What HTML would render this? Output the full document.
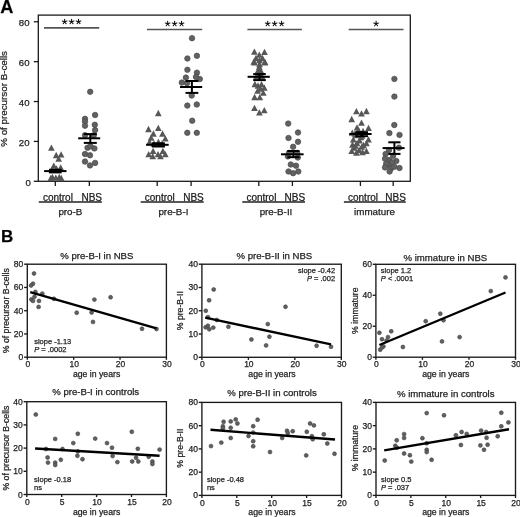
<!DOCTYPE html>
<html><head><meta charset="utf-8"><style>
html,body{margin:0;padding:0;background:#fff;width:520px;height:517px;overflow:hidden}
svg{display:block;will-change:transform}
text{font-family:"Liberation Sans",sans-serif;stroke:#222;stroke-width:0.25px}
</style></head><body>
<svg width="520" height="517" viewBox="0 0 520 517">
<rect width="520" height="517" fill="#fff"/>
<text x="0.20" y="13.00" font-size="18.2" text-anchor="start" font-weight="bold" fill="#000">A</text>
<rect x="38.3" y="15.1" width="372.0" height="166.20000000000002" fill="none" stroke="#1a1a1a" stroke-width="1.3"/>
<line x1="33.80" y1="181.30" x2="38.30" y2="181.30" stroke="#1a1a1a" stroke-width="1.3" stroke-linecap="butt"/>
<text x="30.90" y="186.00" font-size="9.6" text-anchor="end" fill="#222">0</text>
<line x1="33.80" y1="141.42" x2="38.30" y2="141.42" stroke="#1a1a1a" stroke-width="1.3" stroke-linecap="butt"/>
<text x="29.50" y="146.12" font-size="9.6" text-anchor="end" fill="#222">20</text>
<line x1="33.80" y1="101.54" x2="38.30" y2="101.54" stroke="#1a1a1a" stroke-width="1.3" stroke-linecap="butt"/>
<text x="29.50" y="106.24" font-size="9.6" text-anchor="end" fill="#222">40</text>
<line x1="33.80" y1="61.66" x2="38.30" y2="61.66" stroke="#1a1a1a" stroke-width="1.3" stroke-linecap="butt"/>
<text x="29.50" y="66.36" font-size="9.6" text-anchor="end" fill="#222">60</text>
<line x1="33.80" y1="21.78" x2="38.30" y2="21.78" stroke="#1a1a1a" stroke-width="1.3" stroke-linecap="butt"/>
<text x="29.50" y="26.48" font-size="9.6" text-anchor="end" fill="#222">80</text>
<text x="7.40" y="98.90" font-size="9.8" text-anchor="middle" transform="rotate(-90 7.4 98.9)" fill="#222">% of precursor B-cells</text>
<line x1="55.30" y1="181.30" x2="55.30" y2="186.00" stroke="#1a1a1a" stroke-width="1.3" stroke-linecap="butt"/>
<line x1="89.30" y1="181.30" x2="89.30" y2="186.00" stroke="#1a1a1a" stroke-width="1.3" stroke-linecap="butt"/>
<text x="57.90" y="201.00" font-size="10" text-anchor="middle" fill="#222">control</text>
<text x="91.70" y="201.00" font-size="10" text-anchor="middle" fill="#222">NBS</text>
<line x1="38.80" y1="202.10" x2="101.90" y2="202.10" stroke="#222" stroke-width="1.5" stroke-linecap="butt"/>
<text x="70.40" y="215.00" font-size="9.8" text-anchor="middle" fill="#222">pro-B</text>
<line x1="157.20" y1="181.30" x2="157.20" y2="186.00" stroke="#1a1a1a" stroke-width="1.3" stroke-linecap="butt"/>
<line x1="191.10" y1="181.30" x2="191.10" y2="186.00" stroke="#1a1a1a" stroke-width="1.3" stroke-linecap="butt"/>
<text x="159.80" y="201.00" font-size="10" text-anchor="middle" fill="#222">control</text>
<text x="193.50" y="201.00" font-size="10" text-anchor="middle" fill="#222">NBS</text>
<line x1="140.70" y1="202.10" x2="203.70" y2="202.10" stroke="#222" stroke-width="1.5" stroke-linecap="butt"/>
<text x="173.40" y="215.00" font-size="9.8" text-anchor="middle" fill="#222">pre-B-I</text>
<line x1="258.80" y1="181.30" x2="258.80" y2="186.00" stroke="#1a1a1a" stroke-width="1.3" stroke-linecap="butt"/>
<line x1="292.40" y1="181.30" x2="292.40" y2="186.00" stroke="#1a1a1a" stroke-width="1.3" stroke-linecap="butt"/>
<text x="261.40" y="201.00" font-size="10" text-anchor="middle" fill="#222">control</text>
<text x="294.80" y="201.00" font-size="10" text-anchor="middle" fill="#222">NBS</text>
<line x1="242.30" y1="202.10" x2="305.00" y2="202.10" stroke="#222" stroke-width="1.5" stroke-linecap="butt"/>
<text x="276.00" y="215.00" font-size="9.8" text-anchor="middle" fill="#222">pre-B-II</text>
<line x1="360.40" y1="181.30" x2="360.40" y2="186.00" stroke="#1a1a1a" stroke-width="1.3" stroke-linecap="butt"/>
<line x1="393.20" y1="181.30" x2="393.20" y2="186.00" stroke="#1a1a1a" stroke-width="1.3" stroke-linecap="butt"/>
<text x="363.00" y="201.00" font-size="10" text-anchor="middle" fill="#222">control</text>
<text x="395.60" y="201.00" font-size="10" text-anchor="middle" fill="#222">NBS</text>
<line x1="343.90" y1="202.10" x2="405.80" y2="202.10" stroke="#222" stroke-width="1.5" stroke-linecap="butt"/>
<text x="374.50" y="215.00" font-size="9.8" text-anchor="middle" fill="#222">immature</text>
<line x1="44.00" y1="27.90" x2="99.20" y2="27.90" stroke="#555" stroke-width="1.6" stroke-linecap="butt"/>
<path d="M64.65 21.70L64.65 19.25M64.65 21.70L66.98 20.94M64.65 21.70L66.09 23.68M64.65 21.70L63.21 23.68M64.65 21.70L62.32 20.94" stroke="#111" stroke-width="1.1" stroke-linecap="round" fill="none"/>
<path d="M71.60 21.70L71.60 19.25M71.60 21.70L73.93 20.94M71.60 21.70L73.04 23.68M71.60 21.70L70.16 23.68M71.60 21.70L69.27 20.94" stroke="#111" stroke-width="1.1" stroke-linecap="round" fill="none"/>
<path d="M78.55 21.70L78.55 19.25M78.55 21.70L80.88 20.94M78.55 21.70L79.99 23.68M78.55 21.70L77.11 23.68M78.55 21.70L76.22 20.94" stroke="#111" stroke-width="1.1" stroke-linecap="round" fill="none"/>
<line x1="147.00" y1="29.50" x2="202.20" y2="29.50" stroke="#555" stroke-width="1.6" stroke-linecap="butt"/>
<path d="M167.65 23.80L167.65 21.35M167.65 23.80L169.98 23.04M167.65 23.80L169.09 25.78M167.65 23.80L166.21 25.78M167.65 23.80L165.32 23.04" stroke="#111" stroke-width="1.1" stroke-linecap="round" fill="none"/>
<path d="M174.60 23.80L174.60 21.35M174.60 23.80L176.93 23.04M174.60 23.80L176.04 25.78M174.60 23.80L173.16 25.78M174.60 23.80L172.27 23.04" stroke="#111" stroke-width="1.1" stroke-linecap="round" fill="none"/>
<path d="M181.55 23.80L181.55 21.35M181.55 23.80L183.88 23.04M181.55 23.80L182.99 25.78M181.55 23.80L180.11 25.78M181.55 23.80L179.22 23.04" stroke="#111" stroke-width="1.1" stroke-linecap="round" fill="none"/>
<line x1="247.40" y1="29.50" x2="301.90" y2="29.50" stroke="#555" stroke-width="1.6" stroke-linecap="butt"/>
<path d="M267.70 23.80L267.70 21.35M267.70 23.80L270.03 23.04M267.70 23.80L269.14 25.78M267.70 23.80L266.26 25.78M267.70 23.80L265.37 23.04" stroke="#111" stroke-width="1.1" stroke-linecap="round" fill="none"/>
<path d="M274.65 23.80L274.65 21.35M274.65 23.80L276.98 23.04M274.65 23.80L276.09 25.78M274.65 23.80L273.21 25.78M274.65 23.80L272.32 23.04" stroke="#111" stroke-width="1.1" stroke-linecap="round" fill="none"/>
<path d="M281.60 23.80L281.60 21.35M281.60 23.80L283.93 23.04M281.60 23.80L283.04 25.78M281.60 23.80L280.16 25.78M281.60 23.80L279.27 23.04" stroke="#111" stroke-width="1.1" stroke-linecap="round" fill="none"/>
<line x1="348.70" y1="29.50" x2="403.50" y2="29.50" stroke="#555" stroke-width="1.6" stroke-linecap="butt"/>
<path d="M376.10 23.80L376.10 21.35M376.10 23.80L378.43 23.04M376.10 23.80L377.54 25.78M376.10 23.80L374.66 25.78M376.10 23.80L373.77 23.04" stroke="#111" stroke-width="1.1" stroke-linecap="round" fill="none"/>
<path d="M51.40 144.55L54.75 150.85L48.05 150.85Z" fill="#575757"/>
<path d="M56.20 151.85L59.55 158.15L52.85 158.15Z" fill="#575757"/>
<path d="M61.10 151.15L64.45 157.45L57.75 157.45Z" fill="#575757"/>
<path d="M58.70 155.45L62.05 161.75L55.35 161.75Z" fill="#575757"/>
<path d="M53.80 162.45L57.15 168.75L50.45 168.75Z" fill="#575757"/>
<path d="M60.70 164.25L64.05 170.55L57.35 170.55Z" fill="#575757"/>
<path d="M56.50 165.35L59.85 171.65L53.15 171.65Z" fill="#575757"/>
<path d="M52.00 166.35L55.35 172.65L48.65 172.65Z" fill="#575757"/>
<path d="M52.40 173.65L55.75 179.95L49.05 179.95Z" fill="#575757"/>
<path d="M59.30 173.65L62.65 179.95L55.95 179.95Z" fill="#575757"/>
<path d="M55.80 174.45L59.15 180.75L52.45 180.75Z" fill="#575757"/>
<path d="M50.80 174.85L54.15 181.15L47.45 181.15Z" fill="#575757"/>
<path d="M61.30 174.85L64.65 181.15L57.95 181.15Z" fill="#575757"/>
<path d="M158.30 109.85L161.65 116.15L154.95 116.15Z" fill="#575757"/>
<path d="M148.50 125.85L151.85 132.15L145.15 132.15Z" fill="#575757"/>
<path d="M158.30 124.75L161.65 131.05L154.95 131.05Z" fill="#575757"/>
<path d="M153.40 130.35L156.75 136.65L150.05 136.65Z" fill="#575757"/>
<path d="M162.50 130.35L165.85 136.65L159.15 136.65Z" fill="#575757"/>
<path d="M165.30 135.15L168.65 141.45L161.95 141.45Z" fill="#575757"/>
<path d="M151.10 134.35L154.45 140.65L147.75 140.65Z" fill="#575757"/>
<path d="M149.50 138.75L152.85 145.05L146.15 145.05Z" fill="#575757"/>
<path d="M158.40 138.75L161.75 145.05L155.05 145.05Z" fill="#575757"/>
<path d="M154.00 140.35L157.35 146.65L150.65 146.65Z" fill="#575757"/>
<path d="M162.00 140.35L165.35 146.65L158.65 146.65Z" fill="#575757"/>
<path d="M148.70 150.95L152.05 157.25L145.35 157.25Z" fill="#575757"/>
<path d="M153.10 147.75L156.45 154.05L149.75 154.05Z" fill="#575757"/>
<path d="M158.00 150.95L161.35 157.25L154.65 157.25Z" fill="#575757"/>
<path d="M162.90 147.75L166.25 154.05L159.55 154.05Z" fill="#575757"/>
<path d="M165.30 150.95L168.65 157.25L161.95 157.25Z" fill="#575757"/>
<path d="M152.70 153.05L156.05 159.35L149.35 159.35Z" fill="#575757"/>
<path d="M160.50 153.05L163.85 159.35L157.15 159.35Z" fill="#575757"/>
<path d="M254.40 48.45L257.75 54.75L251.05 54.75Z" fill="#575757"/>
<path d="M264.50 48.75L267.85 55.05L261.15 55.05Z" fill="#575757"/>
<path d="M259.30 51.45L262.65 57.75L255.95 57.75Z" fill="#575757"/>
<path d="M256.00 54.85L259.35 61.15L252.65 61.15Z" fill="#575757"/>
<path d="M262.50 54.85L265.85 61.15L259.15 61.15Z" fill="#575757"/>
<path d="M253.80 58.45L257.15 64.75L250.45 64.75Z" fill="#575757"/>
<path d="M259.50 56.85L262.85 63.15L256.15 63.15Z" fill="#575757"/>
<path d="M265.00 58.65L268.35 64.95L261.65 64.95Z" fill="#575757"/>
<path d="M254.50 59.15L257.85 65.45L251.15 65.45Z" fill="#575757"/>
<path d="M264.60 59.15L267.95 65.45L261.25 65.45Z" fill="#575757"/>
<path d="M259.50 60.85L262.85 67.15L256.15 67.15Z" fill="#575757"/>
<path d="M259.30 63.45L262.65 69.75L255.95 69.75Z" fill="#575757"/>
<path d="M259.30 66.65L262.65 72.95L255.95 72.95Z" fill="#575757"/>
<path d="M257.50 68.15L260.85 74.45L254.15 74.45Z" fill="#575757"/>
<path d="M261.30 68.15L264.65 74.45L257.95 74.45Z" fill="#575757"/>
<path d="M259.30 70.35L262.65 76.65L255.95 76.65Z" fill="#575757"/>
<path d="M256.50 72.85L259.85 79.15L253.15 79.15Z" fill="#575757"/>
<path d="M262.00 72.85L265.35 79.15L258.65 79.15Z" fill="#575757"/>
<path d="M254.90 80.85L258.25 87.15L251.55 87.15Z" fill="#575757"/>
<path d="M261.50 81.05L264.85 87.35L258.15 87.35Z" fill="#575757"/>
<path d="M258.00 82.35L261.35 88.65L254.65 88.65Z" fill="#575757"/>
<path d="M264.30 84.35L267.65 90.65L260.95 90.65Z" fill="#575757"/>
<path d="M257.60 87.45L260.95 93.75L254.25 93.75Z" fill="#575757"/>
<path d="M263.30 89.45L266.65 95.75L259.95 95.75Z" fill="#575757"/>
<path d="M260.50 85.35L263.85 91.65L257.15 91.65Z" fill="#575757"/>
<path d="M254.60 93.85L257.95 100.15L251.25 100.15Z" fill="#575757"/>
<path d="M259.80 94.05L263.15 100.35L256.45 100.35Z" fill="#575757"/>
<path d="M254.50 104.75L257.85 111.05L251.15 111.05Z" fill="#575757"/>
<path d="M259.40 109.15L262.75 115.45L256.05 115.45Z" fill="#575757"/>
<path d="M264.30 106.95L267.65 113.25L260.95 113.25Z" fill="#575757"/>
<path d="M356.40 108.05L359.75 114.35L353.05 114.35Z" fill="#575757"/>
<path d="M361.50 110.15L364.85 116.45L358.15 116.45Z" fill="#575757"/>
<path d="M366.40 107.85L369.75 114.15L363.05 114.15Z" fill="#575757"/>
<path d="M351.70 115.85L355.05 122.15L348.35 122.15Z" fill="#575757"/>
<path d="M361.50 119.55L364.85 125.85L358.15 125.85Z" fill="#575757"/>
<path d="M357.00 124.25L360.35 130.55L353.65 130.55Z" fill="#575757"/>
<path d="M368.50 124.75L371.85 131.05L365.15 131.05Z" fill="#575757"/>
<path d="M352.30 129.45L355.65 135.75L348.95 135.75Z" fill="#575757"/>
<path d="M358.50 126.85L361.85 133.15L355.15 133.15Z" fill="#575757"/>
<path d="M363.00 127.85L366.35 134.15L359.65 134.15Z" fill="#575757"/>
<path d="M356.00 131.85L359.35 138.15L352.65 138.15Z" fill="#575757"/>
<path d="M362.00 132.35L365.35 138.65L358.65 138.65Z" fill="#575757"/>
<path d="M355.00 130.35L358.35 136.65L351.65 136.65Z" fill="#575757"/>
<path d="M361.00 133.85L364.35 140.15L357.65 140.15Z" fill="#575757"/>
<path d="M357.00 139.85L360.35 146.15L353.65 146.15Z" fill="#575757"/>
<path d="M363.50 141.85L366.85 148.15L360.15 148.15Z" fill="#575757"/>
<path d="M352.50 141.35L355.85 147.65L349.15 147.65Z" fill="#575757"/>
<path d="M359.00 146.85L362.35 153.15L355.65 153.15Z" fill="#575757"/>
<path d="M362.50 148.85L365.85 155.15L359.15 155.15Z" fill="#575757"/>
<path d="M354.00 144.35L357.35 150.65L350.65 150.65Z" fill="#575757"/>
<path d="M353.30 136.25L356.65 142.55L349.95 142.55Z" fill="#575757"/>
<path d="M359.60 137.25L362.95 143.55L356.25 143.55Z" fill="#575757"/>
<path d="M368.50 136.25L371.85 142.55L365.15 142.55Z" fill="#575757"/>
<path d="M366.40 139.85L369.75 146.15L363.05 146.15Z" fill="#575757"/>
<path d="M355.40 142.55L358.75 148.85L352.05 148.85Z" fill="#575757"/>
<path d="M361.70 143.55L365.05 149.85L358.35 149.85Z" fill="#575757"/>
<path d="M351.70 147.75L355.05 154.05L348.35 154.05Z" fill="#575757"/>
<path d="M356.40 149.35L359.75 155.65L353.05 155.65Z" fill="#575757"/>
<path d="M366.40 147.75L369.75 154.05L363.05 154.05Z" fill="#575757"/>
<circle cx="90.20" cy="91.80" r="2.75" fill="#616161" stroke="#4a4a4a" stroke-width="0.7"/>
<circle cx="95.10" cy="115.00" r="2.75" fill="#616161" stroke="#4a4a4a" stroke-width="0.7"/>
<circle cx="85.00" cy="118.80" r="2.75" fill="#616161" stroke="#4a4a4a" stroke-width="0.7"/>
<circle cx="85.00" cy="121.50" r="2.75" fill="#616161" stroke="#4a4a4a" stroke-width="0.7"/>
<circle cx="85.00" cy="125.70" r="2.75" fill="#616161" stroke="#4a4a4a" stroke-width="0.7"/>
<circle cx="94.80" cy="124.80" r="2.75" fill="#616161" stroke="#4a4a4a" stroke-width="0.7"/>
<circle cx="95.10" cy="130.10" r="2.75" fill="#616161" stroke="#4a4a4a" stroke-width="0.7"/>
<circle cx="85.00" cy="135.20" r="2.75" fill="#616161" stroke="#4a4a4a" stroke-width="0.7"/>
<circle cx="93.80" cy="135.20" r="2.75" fill="#616161" stroke="#4a4a4a" stroke-width="0.7"/>
<circle cx="87.50" cy="147.80" r="2.75" fill="#616161" stroke="#4a4a4a" stroke-width="0.7"/>
<circle cx="94.40" cy="148.40" r="2.75" fill="#616161" stroke="#4a4a4a" stroke-width="0.7"/>
<circle cx="90.50" cy="146.30" r="2.75" fill="#616161" stroke="#4a4a4a" stroke-width="0.7"/>
<circle cx="85.00" cy="154.00" r="2.75" fill="#616161" stroke="#4a4a4a" stroke-width="0.7"/>
<circle cx="90.00" cy="155.30" r="2.75" fill="#616161" stroke="#4a4a4a" stroke-width="0.7"/>
<circle cx="85.00" cy="161.60" r="2.75" fill="#616161" stroke="#4a4a4a" stroke-width="0.7"/>
<circle cx="90.00" cy="165.40" r="2.75" fill="#616161" stroke="#4a4a4a" stroke-width="0.7"/>
<circle cx="95.10" cy="162.90" r="2.75" fill="#616161" stroke="#4a4a4a" stroke-width="0.7"/>
<circle cx="192.00" cy="38.20" r="2.75" fill="#616161" stroke="#4a4a4a" stroke-width="0.7"/>
<circle cx="187.40" cy="58.50" r="2.75" fill="#616161" stroke="#4a4a4a" stroke-width="0.7"/>
<circle cx="196.90" cy="55.80" r="2.75" fill="#616161" stroke="#4a4a4a" stroke-width="0.7"/>
<circle cx="187.40" cy="69.80" r="2.75" fill="#616161" stroke="#4a4a4a" stroke-width="0.7"/>
<circle cx="196.90" cy="72.70" r="2.75" fill="#616161" stroke="#4a4a4a" stroke-width="0.7"/>
<circle cx="185.90" cy="77.60" r="2.75" fill="#616161" stroke="#4a4a4a" stroke-width="0.7"/>
<circle cx="199.80" cy="79.10" r="2.75" fill="#616161" stroke="#4a4a4a" stroke-width="0.7"/>
<circle cx="181.80" cy="82.60" r="2.75" fill="#616161" stroke="#4a4a4a" stroke-width="0.7"/>
<circle cx="187.00" cy="83.20" r="2.75" fill="#616161" stroke="#4a4a4a" stroke-width="0.7"/>
<circle cx="196.00" cy="77.00" r="2.75" fill="#616161" stroke="#4a4a4a" stroke-width="0.7"/>
<circle cx="191.70" cy="95.60" r="2.75" fill="#616161" stroke="#4a4a4a" stroke-width="0.7"/>
<circle cx="187.30" cy="105.60" r="2.75" fill="#616161" stroke="#4a4a4a" stroke-width="0.7"/>
<circle cx="196.80" cy="104.50" r="2.75" fill="#616161" stroke="#4a4a4a" stroke-width="0.7"/>
<circle cx="192.20" cy="120.70" r="2.75" fill="#616161" stroke="#4a4a4a" stroke-width="0.7"/>
<circle cx="187.30" cy="132.80" r="2.75" fill="#616161" stroke="#4a4a4a" stroke-width="0.7"/>
<circle cx="196.80" cy="132.80" r="2.75" fill="#616161" stroke="#4a4a4a" stroke-width="0.7"/>
<circle cx="288.20" cy="123.60" r="2.75" fill="#616161" stroke="#4a4a4a" stroke-width="0.7"/>
<circle cx="298.00" cy="132.50" r="2.75" fill="#616161" stroke="#4a4a4a" stroke-width="0.7"/>
<circle cx="288.50" cy="138.00" r="2.75" fill="#616161" stroke="#4a4a4a" stroke-width="0.7"/>
<circle cx="298.00" cy="141.80" r="2.75" fill="#616161" stroke="#4a4a4a" stroke-width="0.7"/>
<circle cx="293.10" cy="146.80" r="2.75" fill="#616161" stroke="#4a4a4a" stroke-width="0.7"/>
<circle cx="289.00" cy="152.90" r="2.75" fill="#616161" stroke="#4a4a4a" stroke-width="0.7"/>
<circle cx="297.20" cy="152.90" r="2.75" fill="#616161" stroke="#4a4a4a" stroke-width="0.7"/>
<circle cx="287.90" cy="156.40" r="2.75" fill="#616161" stroke="#4a4a4a" stroke-width="0.7"/>
<circle cx="297.80" cy="157.50" r="2.75" fill="#616161" stroke="#4a4a4a" stroke-width="0.7"/>
<circle cx="290.80" cy="164.50" r="2.75" fill="#616161" stroke="#4a4a4a" stroke-width="0.7"/>
<circle cx="296.00" cy="165.70" r="2.75" fill="#616161" stroke="#4a4a4a" stroke-width="0.7"/>
<circle cx="288.50" cy="171.50" r="2.75" fill="#616161" stroke="#4a4a4a" stroke-width="0.7"/>
<circle cx="293.10" cy="173.20" r="2.75" fill="#616161" stroke="#4a4a4a" stroke-width="0.7"/>
<circle cx="298.30" cy="171.50" r="2.75" fill="#616161" stroke="#4a4a4a" stroke-width="0.7"/>
<circle cx="389.00" cy="160.00" r="2.75" fill="#616161" stroke="#4a4a4a" stroke-width="0.7"/>
<circle cx="388.50" cy="165.00" r="2.75" fill="#616161" stroke="#4a4a4a" stroke-width="0.7"/>
<circle cx="391.00" cy="168.50" r="2.75" fill="#616161" stroke="#4a4a4a" stroke-width="0.7"/>
<circle cx="396.30" cy="161.00" r="2.75" fill="#616161" stroke="#4a4a4a" stroke-width="0.7"/>
<circle cx="394.40" cy="78.90" r="2.75" fill="#616161" stroke="#4a4a4a" stroke-width="0.7"/>
<circle cx="394.40" cy="96.60" r="2.75" fill="#616161" stroke="#4a4a4a" stroke-width="0.7"/>
<circle cx="394.30" cy="125.00" r="2.75" fill="#616161" stroke="#4a4a4a" stroke-width="0.7"/>
<circle cx="389.40" cy="133.10" r="2.75" fill="#616161" stroke="#4a4a4a" stroke-width="0.7"/>
<circle cx="399.50" cy="134.90" r="2.75" fill="#616161" stroke="#4a4a4a" stroke-width="0.7"/>
<circle cx="398.90" cy="147.70" r="2.75" fill="#616161" stroke="#4a4a4a" stroke-width="0.7"/>
<circle cx="389.00" cy="150.00" r="2.75" fill="#616161" stroke="#4a4a4a" stroke-width="0.7"/>
<circle cx="385.60" cy="154.00" r="2.75" fill="#616161" stroke="#4a4a4a" stroke-width="0.7"/>
<circle cx="393.10" cy="155.80" r="2.75" fill="#616161" stroke="#4a4a4a" stroke-width="0.7"/>
<circle cx="385.00" cy="158.70" r="2.75" fill="#616161" stroke="#4a4a4a" stroke-width="0.7"/>
<circle cx="392.00" cy="162.20" r="2.75" fill="#616161" stroke="#4a4a4a" stroke-width="0.7"/>
<circle cx="386.10" cy="163.90" r="2.75" fill="#616161" stroke="#4a4a4a" stroke-width="0.7"/>
<circle cx="385.00" cy="167.40" r="2.75" fill="#616161" stroke="#4a4a4a" stroke-width="0.7"/>
<circle cx="394.30" cy="166.80" r="2.75" fill="#616161" stroke="#4a4a4a" stroke-width="0.7"/>
<circle cx="399.50" cy="168.00" r="2.75" fill="#616161" stroke="#4a4a4a" stroke-width="0.7"/>
<circle cx="389.60" cy="171.50" r="2.75" fill="#616161" stroke="#4a4a4a" stroke-width="0.7"/>
<line x1="44.10" y1="171.10" x2="66.50" y2="171.10" stroke="#000" stroke-width="2.0" stroke-linecap="butt"/>
<line x1="78.20" y1="138.30" x2="100.20" y2="138.30" stroke="#000" stroke-width="2.0" stroke-linecap="butt"/>
<line x1="146.10" y1="144.80" x2="168.70" y2="144.80" stroke="#000" stroke-width="2.0" stroke-linecap="butt"/>
<line x1="180.00" y1="87.00" x2="202.20" y2="87.00" stroke="#000" stroke-width="2.0" stroke-linecap="butt"/>
<line x1="247.60" y1="76.80" x2="269.80" y2="76.80" stroke="#000" stroke-width="2.0" stroke-linecap="butt"/>
<line x1="281.00" y1="154.30" x2="303.60" y2="154.30" stroke="#000" stroke-width="2.0" stroke-linecap="butt"/>
<line x1="349.20" y1="134.00" x2="371.60" y2="134.00" stroke="#000" stroke-width="2.0" stroke-linecap="butt"/>
<line x1="382.60" y1="148.10" x2="404.60" y2="148.10" stroke="#000" stroke-width="2.0" stroke-linecap="butt"/>
<line x1="49.00" y1="169.80" x2="61.60" y2="169.80" stroke="#000" stroke-width="2.0" stroke-linecap="butt"/>
<line x1="49.00" y1="172.40" x2="61.60" y2="172.40" stroke="#000" stroke-width="2.0" stroke-linecap="butt"/>
<line x1="55.30" y1="169.80" x2="55.30" y2="172.40" stroke="#000" stroke-width="2.0" stroke-linecap="butt"/>
<line x1="83.80" y1="134.10" x2="96.80" y2="134.10" stroke="#000" stroke-width="2.0" stroke-linecap="butt"/>
<line x1="83.80" y1="142.90" x2="96.80" y2="142.90" stroke="#000" stroke-width="2.0" stroke-linecap="butt"/>
<line x1="90.30" y1="134.10" x2="90.30" y2="142.90" stroke="#000" stroke-width="2.0" stroke-linecap="butt"/>
<line x1="151.90" y1="143.30" x2="164.90" y2="143.30" stroke="#000" stroke-width="2.0" stroke-linecap="butt"/>
<line x1="151.90" y1="146.50" x2="164.90" y2="146.50" stroke="#000" stroke-width="2.0" stroke-linecap="butt"/>
<line x1="158.40" y1="143.30" x2="158.40" y2="146.50" stroke="#000" stroke-width="2.0" stroke-linecap="butt"/>
<line x1="185.50" y1="81.00" x2="198.30" y2="81.00" stroke="#000" stroke-width="2.0" stroke-linecap="butt"/>
<line x1="185.50" y1="92.90" x2="198.30" y2="92.90" stroke="#000" stroke-width="2.0" stroke-linecap="butt"/>
<line x1="191.90" y1="81.00" x2="191.90" y2="92.90" stroke="#000" stroke-width="2.0" stroke-linecap="butt"/>
<line x1="253.20" y1="74.10" x2="265.80" y2="74.10" stroke="#000" stroke-width="2.0" stroke-linecap="butt"/>
<line x1="253.20" y1="80.10" x2="265.80" y2="80.10" stroke="#000" stroke-width="2.0" stroke-linecap="butt"/>
<line x1="259.50" y1="74.10" x2="259.50" y2="80.10" stroke="#000" stroke-width="2.0" stroke-linecap="butt"/>
<line x1="287.30" y1="151.00" x2="299.50" y2="151.00" stroke="#000" stroke-width="2.0" stroke-linecap="butt"/>
<line x1="287.30" y1="157.20" x2="299.50" y2="157.20" stroke="#000" stroke-width="2.0" stroke-linecap="butt"/>
<line x1="293.40" y1="151.00" x2="293.40" y2="157.20" stroke="#000" stroke-width="2.0" stroke-linecap="butt"/>
<line x1="355.40" y1="132.20" x2="368.00" y2="132.20" stroke="#000" stroke-width="2.0" stroke-linecap="butt"/>
<line x1="355.40" y1="136.20" x2="368.00" y2="136.20" stroke="#000" stroke-width="2.0" stroke-linecap="butt"/>
<line x1="361.70" y1="132.20" x2="361.70" y2="136.20" stroke="#000" stroke-width="2.0" stroke-linecap="butt"/>
<line x1="388.30" y1="142.30" x2="400.50" y2="142.30" stroke="#000" stroke-width="2.0" stroke-linecap="butt"/>
<line x1="388.30" y1="153.90" x2="400.50" y2="153.90" stroke="#000" stroke-width="2.0" stroke-linecap="butt"/>
<line x1="394.40" y1="142.30" x2="394.40" y2="153.90" stroke="#000" stroke-width="2.0" stroke-linecap="butt"/>
<text x="1.00" y="242.30" font-size="17" text-anchor="start" font-weight="bold" fill="#000">B</text>
<rect x="27.3" y="264.2" width="139.10" height="93.00" fill="none" stroke="#1a1a1a" stroke-width="1.35"/>
<line x1="24.10" y1="357.20" x2="27.30" y2="357.20" stroke="#1a1a1a" stroke-width="1.35" stroke-linecap="butt"/>
<text x="23.30" y="360.20" font-size="8.5" text-anchor="end" fill="#222">0</text>
<line x1="24.10" y1="333.95" x2="27.30" y2="333.95" stroke="#1a1a1a" stroke-width="1.35" stroke-linecap="butt"/>
<text x="23.30" y="336.95" font-size="8.5" text-anchor="end" fill="#222">20</text>
<line x1="24.10" y1="310.70" x2="27.30" y2="310.70" stroke="#1a1a1a" stroke-width="1.35" stroke-linecap="butt"/>
<text x="23.30" y="313.70" font-size="8.5" text-anchor="end" fill="#222">40</text>
<line x1="24.10" y1="287.45" x2="27.30" y2="287.45" stroke="#1a1a1a" stroke-width="1.35" stroke-linecap="butt"/>
<text x="23.30" y="290.45" font-size="8.5" text-anchor="end" fill="#222">60</text>
<line x1="24.10" y1="264.20" x2="27.30" y2="264.20" stroke="#1a1a1a" stroke-width="1.35" stroke-linecap="butt"/>
<text x="23.30" y="267.20" font-size="8.5" text-anchor="end" fill="#222">80</text>
<line x1="27.30" y1="357.20" x2="27.30" y2="359.80" stroke="#1a1a1a" stroke-width="1.35" stroke-linecap="butt"/>
<text x="27.80" y="366.70" font-size="8.5" text-anchor="middle" fill="#222">0</text>
<line x1="73.67" y1="357.20" x2="73.67" y2="359.80" stroke="#1a1a1a" stroke-width="1.35" stroke-linecap="butt"/>
<text x="74.17" y="366.70" font-size="8.5" text-anchor="middle" fill="#222">10</text>
<line x1="120.03" y1="357.20" x2="120.03" y2="359.80" stroke="#1a1a1a" stroke-width="1.35" stroke-linecap="butt"/>
<text x="120.53" y="366.70" font-size="8.5" text-anchor="middle" fill="#222">20</text>
<line x1="166.40" y1="357.20" x2="166.40" y2="359.80" stroke="#1a1a1a" stroke-width="1.35" stroke-linecap="butt"/>
<text x="166.90" y="366.70" font-size="8.5" text-anchor="middle" fill="#222">30</text>
<text x="96.85" y="258.80" font-size="9.6" text-anchor="middle" fill="#222">% pre-B-I in NBS</text>
<text x="96.60" y="377.40" font-size="8.7" text-anchor="middle" fill="#222">age in years</text>
<rect x="201.9" y="264.2" width="139.40" height="93.10" fill="none" stroke="#1a1a1a" stroke-width="1.35"/>
<line x1="198.70" y1="357.30" x2="201.90" y2="357.30" stroke="#1a1a1a" stroke-width="1.35" stroke-linecap="butt"/>
<text x="197.90" y="360.30" font-size="8.5" text-anchor="end" fill="#222">0</text>
<line x1="198.70" y1="334.02" x2="201.90" y2="334.02" stroke="#1a1a1a" stroke-width="1.35" stroke-linecap="butt"/>
<text x="197.90" y="337.02" font-size="8.5" text-anchor="end" fill="#222">10</text>
<line x1="198.70" y1="310.75" x2="201.90" y2="310.75" stroke="#1a1a1a" stroke-width="1.35" stroke-linecap="butt"/>
<text x="197.90" y="313.75" font-size="8.5" text-anchor="end" fill="#222">20</text>
<line x1="198.70" y1="287.48" x2="201.90" y2="287.48" stroke="#1a1a1a" stroke-width="1.35" stroke-linecap="butt"/>
<text x="197.90" y="290.48" font-size="8.5" text-anchor="end" fill="#222">30</text>
<line x1="198.70" y1="264.20" x2="201.90" y2="264.20" stroke="#1a1a1a" stroke-width="1.35" stroke-linecap="butt"/>
<text x="197.90" y="267.20" font-size="8.5" text-anchor="end" fill="#222">40</text>
<line x1="201.90" y1="357.30" x2="201.90" y2="359.90" stroke="#1a1a1a" stroke-width="1.35" stroke-linecap="butt"/>
<text x="202.40" y="366.80" font-size="8.5" text-anchor="middle" fill="#222">0</text>
<line x1="248.37" y1="357.30" x2="248.37" y2="359.90" stroke="#1a1a1a" stroke-width="1.35" stroke-linecap="butt"/>
<text x="248.87" y="366.80" font-size="8.5" text-anchor="middle" fill="#222">10</text>
<line x1="294.83" y1="357.30" x2="294.83" y2="359.90" stroke="#1a1a1a" stroke-width="1.35" stroke-linecap="butt"/>
<text x="295.33" y="366.80" font-size="8.5" text-anchor="middle" fill="#222">20</text>
<line x1="341.30" y1="357.30" x2="341.30" y2="359.90" stroke="#1a1a1a" stroke-width="1.35" stroke-linecap="butt"/>
<text x="341.80" y="366.80" font-size="8.5" text-anchor="middle" fill="#222">30</text>
<text x="274.40" y="259.20" font-size="9.6" text-anchor="middle" fill="#222">% pre-B-II in NBS</text>
<text x="272.00" y="377.40" font-size="8.7" text-anchor="middle" fill="#222">age in years</text>
<rect x="375.9" y="264.3" width="139.60" height="92.90" fill="none" stroke="#1a1a1a" stroke-width="1.35"/>
<line x1="372.70" y1="357.20" x2="375.90" y2="357.20" stroke="#1a1a1a" stroke-width="1.35" stroke-linecap="butt"/>
<text x="371.90" y="360.20" font-size="8.5" text-anchor="end" fill="#222">0</text>
<line x1="372.70" y1="326.23" x2="375.90" y2="326.23" stroke="#1a1a1a" stroke-width="1.35" stroke-linecap="butt"/>
<text x="371.90" y="329.23" font-size="8.5" text-anchor="end" fill="#222">20</text>
<line x1="372.70" y1="295.27" x2="375.90" y2="295.27" stroke="#1a1a1a" stroke-width="1.35" stroke-linecap="butt"/>
<text x="371.90" y="298.27" font-size="8.5" text-anchor="end" fill="#222">40</text>
<line x1="372.70" y1="264.30" x2="375.90" y2="264.30" stroke="#1a1a1a" stroke-width="1.35" stroke-linecap="butt"/>
<text x="371.90" y="267.30" font-size="8.5" text-anchor="end" fill="#222">60</text>
<line x1="375.90" y1="357.20" x2="375.90" y2="359.80" stroke="#1a1a1a" stroke-width="1.35" stroke-linecap="butt"/>
<text x="376.40" y="366.70" font-size="8.5" text-anchor="middle" fill="#222">0</text>
<line x1="422.43" y1="357.20" x2="422.43" y2="359.80" stroke="#1a1a1a" stroke-width="1.35" stroke-linecap="butt"/>
<text x="422.93" y="366.70" font-size="8.5" text-anchor="middle" fill="#222">10</text>
<line x1="468.97" y1="357.20" x2="468.97" y2="359.80" stroke="#1a1a1a" stroke-width="1.35" stroke-linecap="butt"/>
<text x="469.47" y="366.70" font-size="8.5" text-anchor="middle" fill="#222">20</text>
<line x1="515.50" y1="357.20" x2="515.50" y2="359.80" stroke="#1a1a1a" stroke-width="1.35" stroke-linecap="butt"/>
<text x="516.00" y="366.70" font-size="8.5" text-anchor="middle" fill="#222">30</text>
<text x="445.40" y="260.70" font-size="9.6" text-anchor="middle" fill="#222">% immature in NBS</text>
<text x="445.80" y="377.40" font-size="8.7" text-anchor="middle" fill="#222">age in years</text>
<rect x="26.8" y="401.7" width="139.60" height="92.80" fill="none" stroke="#1a1a1a" stroke-width="1.35"/>
<line x1="23.60" y1="494.50" x2="26.80" y2="494.50" stroke="#1a1a1a" stroke-width="1.35" stroke-linecap="butt"/>
<text x="22.80" y="497.50" font-size="8.5" text-anchor="end" fill="#222">0</text>
<line x1="23.60" y1="471.30" x2="26.80" y2="471.30" stroke="#1a1a1a" stroke-width="1.35" stroke-linecap="butt"/>
<text x="22.80" y="474.30" font-size="8.5" text-anchor="end" fill="#222">10</text>
<line x1="23.60" y1="448.10" x2="26.80" y2="448.10" stroke="#1a1a1a" stroke-width="1.35" stroke-linecap="butt"/>
<text x="22.80" y="451.10" font-size="8.5" text-anchor="end" fill="#222">20</text>
<line x1="23.60" y1="424.90" x2="26.80" y2="424.90" stroke="#1a1a1a" stroke-width="1.35" stroke-linecap="butt"/>
<text x="22.80" y="427.90" font-size="8.5" text-anchor="end" fill="#222">30</text>
<line x1="23.60" y1="401.70" x2="26.80" y2="401.70" stroke="#1a1a1a" stroke-width="1.35" stroke-linecap="butt"/>
<text x="22.80" y="404.70" font-size="8.5" text-anchor="end" fill="#222">40</text>
<line x1="26.80" y1="494.50" x2="26.80" y2="497.10" stroke="#1a1a1a" stroke-width="1.35" stroke-linecap="butt"/>
<text x="27.30" y="505.10" font-size="8.5" text-anchor="middle" fill="#222">0</text>
<line x1="61.70" y1="494.50" x2="61.70" y2="497.10" stroke="#1a1a1a" stroke-width="1.35" stroke-linecap="butt"/>
<text x="62.20" y="505.10" font-size="8.5" text-anchor="middle" fill="#222">5</text>
<line x1="96.60" y1="494.50" x2="96.60" y2="497.10" stroke="#1a1a1a" stroke-width="1.35" stroke-linecap="butt"/>
<text x="97.10" y="505.10" font-size="8.5" text-anchor="middle" fill="#222">10</text>
<line x1="131.50" y1="494.50" x2="131.50" y2="497.10" stroke="#1a1a1a" stroke-width="1.35" stroke-linecap="butt"/>
<text x="132.00" y="505.10" font-size="8.5" text-anchor="middle" fill="#222">15</text>
<line x1="166.40" y1="494.50" x2="166.40" y2="497.10" stroke="#1a1a1a" stroke-width="1.35" stroke-linecap="butt"/>
<text x="166.90" y="505.10" font-size="8.5" text-anchor="middle" fill="#222">20</text>
<text x="95.70" y="395.20" font-size="9.6" text-anchor="middle" fill="#222">% pre-B-I in controls</text>
<text x="96.60" y="514.70" font-size="8.7" text-anchor="middle" fill="#222">age in years</text>
<rect x="201.9" y="402.4" width="139.60" height="93.00" fill="none" stroke="#1a1a1a" stroke-width="1.35"/>
<line x1="198.70" y1="495.40" x2="201.90" y2="495.40" stroke="#1a1a1a" stroke-width="1.35" stroke-linecap="butt"/>
<text x="197.90" y="498.40" font-size="8.5" text-anchor="end" fill="#222">0</text>
<line x1="198.70" y1="472.15" x2="201.90" y2="472.15" stroke="#1a1a1a" stroke-width="1.35" stroke-linecap="butt"/>
<text x="197.90" y="475.15" font-size="8.5" text-anchor="end" fill="#222">20</text>
<line x1="198.70" y1="448.90" x2="201.90" y2="448.90" stroke="#1a1a1a" stroke-width="1.35" stroke-linecap="butt"/>
<text x="197.90" y="451.90" font-size="8.5" text-anchor="end" fill="#222">40</text>
<line x1="198.70" y1="425.65" x2="201.90" y2="425.65" stroke="#1a1a1a" stroke-width="1.35" stroke-linecap="butt"/>
<text x="197.90" y="428.65" font-size="8.5" text-anchor="end" fill="#222">60</text>
<line x1="198.70" y1="402.40" x2="201.90" y2="402.40" stroke="#1a1a1a" stroke-width="1.35" stroke-linecap="butt"/>
<text x="197.90" y="405.40" font-size="8.5" text-anchor="end" fill="#222">80</text>
<line x1="201.90" y1="495.40" x2="201.90" y2="498.00" stroke="#1a1a1a" stroke-width="1.35" stroke-linecap="butt"/>
<text x="202.40" y="506.00" font-size="8.5" text-anchor="middle" fill="#222">0</text>
<line x1="236.80" y1="495.40" x2="236.80" y2="498.00" stroke="#1a1a1a" stroke-width="1.35" stroke-linecap="butt"/>
<text x="237.30" y="506.00" font-size="8.5" text-anchor="middle" fill="#222">5</text>
<line x1="271.70" y1="495.40" x2="271.70" y2="498.00" stroke="#1a1a1a" stroke-width="1.35" stroke-linecap="butt"/>
<text x="272.20" y="506.00" font-size="8.5" text-anchor="middle" fill="#222">10</text>
<line x1="306.60" y1="495.40" x2="306.60" y2="498.00" stroke="#1a1a1a" stroke-width="1.35" stroke-linecap="butt"/>
<text x="307.10" y="506.00" font-size="8.5" text-anchor="middle" fill="#222">15</text>
<line x1="341.50" y1="495.40" x2="341.50" y2="498.00" stroke="#1a1a1a" stroke-width="1.35" stroke-linecap="butt"/>
<text x="342.00" y="506.00" font-size="8.5" text-anchor="middle" fill="#222">20</text>
<text x="272.00" y="395.50" font-size="9.6" text-anchor="middle" fill="#222">% pre-B-II in controls</text>
<text x="272.00" y="514.70" font-size="8.7" text-anchor="middle" fill="#222">age in years</text>
<rect x="376.0" y="402.4" width="139.50" height="93.00" fill="none" stroke="#1a1a1a" stroke-width="1.35"/>
<line x1="372.80" y1="495.40" x2="376.00" y2="495.40" stroke="#1a1a1a" stroke-width="1.35" stroke-linecap="butt"/>
<text x="372.00" y="498.40" font-size="8.5" text-anchor="end" fill="#222">0</text>
<line x1="372.80" y1="472.15" x2="376.00" y2="472.15" stroke="#1a1a1a" stroke-width="1.35" stroke-linecap="butt"/>
<text x="372.00" y="475.15" font-size="8.5" text-anchor="end" fill="#222">10</text>
<line x1="372.80" y1="448.90" x2="376.00" y2="448.90" stroke="#1a1a1a" stroke-width="1.35" stroke-linecap="butt"/>
<text x="372.00" y="451.90" font-size="8.5" text-anchor="end" fill="#222">20</text>
<line x1="372.80" y1="425.65" x2="376.00" y2="425.65" stroke="#1a1a1a" stroke-width="1.35" stroke-linecap="butt"/>
<text x="372.00" y="428.65" font-size="8.5" text-anchor="end" fill="#222">30</text>
<line x1="372.80" y1="402.40" x2="376.00" y2="402.40" stroke="#1a1a1a" stroke-width="1.35" stroke-linecap="butt"/>
<text x="372.00" y="405.40" font-size="8.5" text-anchor="end" fill="#222">40</text>
<line x1="376.00" y1="495.40" x2="376.00" y2="498.00" stroke="#1a1a1a" stroke-width="1.35" stroke-linecap="butt"/>
<text x="376.50" y="506.00" font-size="8.5" text-anchor="middle" fill="#222">0</text>
<line x1="410.88" y1="495.40" x2="410.88" y2="498.00" stroke="#1a1a1a" stroke-width="1.35" stroke-linecap="butt"/>
<text x="411.38" y="506.00" font-size="8.5" text-anchor="middle" fill="#222">5</text>
<line x1="445.75" y1="495.40" x2="445.75" y2="498.00" stroke="#1a1a1a" stroke-width="1.35" stroke-linecap="butt"/>
<text x="446.25" y="506.00" font-size="8.5" text-anchor="middle" fill="#222">10</text>
<line x1="480.62" y1="495.40" x2="480.62" y2="498.00" stroke="#1a1a1a" stroke-width="1.35" stroke-linecap="butt"/>
<text x="481.12" y="506.00" font-size="8.5" text-anchor="middle" fill="#222">15</text>
<line x1="515.50" y1="495.40" x2="515.50" y2="498.00" stroke="#1a1a1a" stroke-width="1.35" stroke-linecap="butt"/>
<text x="516.00" y="506.00" font-size="8.5" text-anchor="middle" fill="#222">20</text>
<text x="445.75" y="396.70" font-size="9.6" text-anchor="middle" fill="#222">% immature in controls</text>
<text x="445.80" y="514.70" font-size="8.7" text-anchor="middle" fill="#222">age in years</text>
<circle cx="34.00" cy="273.50" r="1.95" fill="#606060" stroke="#454545" stroke-width="0.65"/>
<circle cx="33.00" cy="283.70" r="1.95" fill="#606060" stroke="#454545" stroke-width="0.65"/>
<circle cx="31.10" cy="285.50" r="1.95" fill="#606060" stroke="#454545" stroke-width="0.65"/>
<circle cx="35.40" cy="291.90" r="1.95" fill="#606060" stroke="#454545" stroke-width="0.65"/>
<circle cx="42.30" cy="293.60" r="1.95" fill="#606060" stroke="#454545" stroke-width="0.65"/>
<circle cx="34.50" cy="296.70" r="1.95" fill="#606060" stroke="#454545" stroke-width="0.65"/>
<circle cx="31.40" cy="299.40" r="1.95" fill="#606060" stroke="#454545" stroke-width="0.65"/>
<circle cx="33.00" cy="300.90" r="1.95" fill="#606060" stroke="#454545" stroke-width="0.65"/>
<circle cx="39.00" cy="300.90" r="1.95" fill="#606060" stroke="#454545" stroke-width="0.65"/>
<circle cx="38.60" cy="306.90" r="1.95" fill="#606060" stroke="#454545" stroke-width="0.65"/>
<circle cx="53.90" cy="298.80" r="1.95" fill="#606060" stroke="#454545" stroke-width="0.65"/>
<circle cx="76.70" cy="312.70" r="1.95" fill="#606060" stroke="#454545" stroke-width="0.65"/>
<circle cx="94.40" cy="299.60" r="1.95" fill="#606060" stroke="#454545" stroke-width="0.65"/>
<circle cx="110.60" cy="297.30" r="1.95" fill="#606060" stroke="#454545" stroke-width="0.65"/>
<circle cx="91.60" cy="312.50" r="1.95" fill="#606060" stroke="#454545" stroke-width="0.65"/>
<circle cx="93.00" cy="321.90" r="1.95" fill="#606060" stroke="#454545" stroke-width="0.65"/>
<circle cx="142.00" cy="328.80" r="1.95" fill="#606060" stroke="#454545" stroke-width="0.65"/>
<circle cx="156.50" cy="329.00" r="1.95" fill="#606060" stroke="#454545" stroke-width="0.65"/>
<circle cx="213.70" cy="289.50" r="1.95" fill="#606060" stroke="#454545" stroke-width="0.65"/>
<circle cx="209.10" cy="300.30" r="1.95" fill="#606060" stroke="#454545" stroke-width="0.65"/>
<circle cx="205.80" cy="310.80" r="1.95" fill="#606060" stroke="#454545" stroke-width="0.65"/>
<circle cx="207.90" cy="317.10" r="1.95" fill="#606060" stroke="#454545" stroke-width="0.65"/>
<circle cx="216.80" cy="320.00" r="1.95" fill="#606060" stroke="#454545" stroke-width="0.65"/>
<circle cx="205.60" cy="327.30" r="1.95" fill="#606060" stroke="#454545" stroke-width="0.65"/>
<circle cx="207.90" cy="325.80" r="1.95" fill="#606060" stroke="#454545" stroke-width="0.65"/>
<circle cx="209.30" cy="329.30" r="1.95" fill="#606060" stroke="#454545" stroke-width="0.65"/>
<circle cx="213.30" cy="327.60" r="1.95" fill="#606060" stroke="#454545" stroke-width="0.65"/>
<circle cx="228.40" cy="326.70" r="1.95" fill="#606060" stroke="#454545" stroke-width="0.65"/>
<circle cx="251.40" cy="339.50" r="1.95" fill="#606060" stroke="#454545" stroke-width="0.65"/>
<circle cx="285.50" cy="306.80" r="1.95" fill="#606060" stroke="#454545" stroke-width="0.65"/>
<circle cx="267.80" cy="324.10" r="1.95" fill="#606060" stroke="#454545" stroke-width="0.65"/>
<circle cx="269.40" cy="336.70" r="1.95" fill="#606060" stroke="#454545" stroke-width="0.65"/>
<circle cx="266.10" cy="345.40" r="1.95" fill="#606060" stroke="#454545" stroke-width="0.65"/>
<circle cx="316.60" cy="345.70" r="1.95" fill="#606060" stroke="#454545" stroke-width="0.65"/>
<circle cx="331.00" cy="346.80" r="1.95" fill="#606060" stroke="#454545" stroke-width="0.65"/>
<circle cx="379.40" cy="332.80" r="1.95" fill="#606060" stroke="#454545" stroke-width="0.65"/>
<circle cx="391.20" cy="331.30" r="1.95" fill="#606060" stroke="#454545" stroke-width="0.65"/>
<circle cx="382.00" cy="339.20" r="1.95" fill="#606060" stroke="#454545" stroke-width="0.65"/>
<circle cx="388.00" cy="337.10" r="1.95" fill="#606060" stroke="#454545" stroke-width="0.65"/>
<circle cx="386.60" cy="340.60" r="1.95" fill="#606060" stroke="#454545" stroke-width="0.65"/>
<circle cx="383.40" cy="346.40" r="1.95" fill="#606060" stroke="#454545" stroke-width="0.65"/>
<circle cx="380.20" cy="349.70" r="1.95" fill="#606060" stroke="#454545" stroke-width="0.65"/>
<circle cx="382.00" cy="347.50" r="1.95" fill="#606060" stroke="#454545" stroke-width="0.65"/>
<circle cx="402.90" cy="347.00" r="1.95" fill="#606060" stroke="#454545" stroke-width="0.65"/>
<circle cx="425.70" cy="321.20" r="1.95" fill="#606060" stroke="#454545" stroke-width="0.65"/>
<circle cx="505.50" cy="277.40" r="1.95" fill="#606060" stroke="#454545" stroke-width="0.65"/>
<circle cx="490.80" cy="291.10" r="1.95" fill="#606060" stroke="#454545" stroke-width="0.65"/>
<circle cx="440.30" cy="313.70" r="1.95" fill="#606060" stroke="#454545" stroke-width="0.65"/>
<circle cx="443.50" cy="320.20" r="1.95" fill="#606060" stroke="#454545" stroke-width="0.65"/>
<circle cx="459.60" cy="337.10" r="1.95" fill="#606060" stroke="#454545" stroke-width="0.65"/>
<circle cx="442.00" cy="341.40" r="1.95" fill="#606060" stroke="#454545" stroke-width="0.65"/>
<circle cx="35.80" cy="414.50" r="1.95" fill="#606060" stroke="#454545" stroke-width="0.65"/>
<circle cx="55.20" cy="438.90" r="1.95" fill="#606060" stroke="#454545" stroke-width="0.65"/>
<circle cx="77.80" cy="433.80" r="1.95" fill="#606060" stroke="#454545" stroke-width="0.65"/>
<circle cx="95.20" cy="438.60" r="1.95" fill="#606060" stroke="#454545" stroke-width="0.65"/>
<circle cx="73.30" cy="443.10" r="1.95" fill="#606060" stroke="#454545" stroke-width="0.65"/>
<circle cx="46.00" cy="449.00" r="1.95" fill="#606060" stroke="#454545" stroke-width="0.65"/>
<circle cx="62.50" cy="449.00" r="1.95" fill="#606060" stroke="#454545" stroke-width="0.65"/>
<circle cx="77.80" cy="451.40" r="1.95" fill="#606060" stroke="#454545" stroke-width="0.65"/>
<circle cx="47.60" cy="457.50" r="1.95" fill="#606060" stroke="#454545" stroke-width="0.65"/>
<circle cx="77.40" cy="455.80" r="1.95" fill="#606060" stroke="#454545" stroke-width="0.65"/>
<circle cx="82.50" cy="459.20" r="1.95" fill="#606060" stroke="#454545" stroke-width="0.65"/>
<circle cx="60.80" cy="459.80" r="1.95" fill="#606060" stroke="#454545" stroke-width="0.65"/>
<circle cx="48.00" cy="462.60" r="1.95" fill="#606060" stroke="#454545" stroke-width="0.65"/>
<circle cx="55.20" cy="462.60" r="1.95" fill="#606060" stroke="#454545" stroke-width="0.65"/>
<circle cx="55.20" cy="465.00" r="1.95" fill="#606060" stroke="#454545" stroke-width="0.65"/>
<circle cx="107.00" cy="443.10" r="1.95" fill="#606060" stroke="#454545" stroke-width="0.65"/>
<circle cx="112.00" cy="447.70" r="1.95" fill="#606060" stroke="#454545" stroke-width="0.65"/>
<circle cx="112.60" cy="456.10" r="1.95" fill="#606060" stroke="#454545" stroke-width="0.65"/>
<circle cx="117.40" cy="462.10" r="1.95" fill="#606060" stroke="#454545" stroke-width="0.65"/>
<circle cx="131.80" cy="431.80" r="1.95" fill="#606060" stroke="#454545" stroke-width="0.65"/>
<circle cx="137.80" cy="448.80" r="1.95" fill="#606060" stroke="#454545" stroke-width="0.65"/>
<circle cx="132.20" cy="461.50" r="1.95" fill="#606060" stroke="#454545" stroke-width="0.65"/>
<circle cx="136.10" cy="457.80" r="1.95" fill="#606060" stroke="#454545" stroke-width="0.65"/>
<circle cx="138.30" cy="461.50" r="1.95" fill="#606060" stroke="#454545" stroke-width="0.65"/>
<circle cx="148.70" cy="456.80" r="1.95" fill="#606060" stroke="#454545" stroke-width="0.65"/>
<circle cx="152.40" cy="461.50" r="1.95" fill="#606060" stroke="#454545" stroke-width="0.65"/>
<circle cx="152.40" cy="464.00" r="1.95" fill="#606060" stroke="#454545" stroke-width="0.65"/>
<circle cx="159.60" cy="449.60" r="1.95" fill="#606060" stroke="#454545" stroke-width="0.65"/>
<circle cx="211.00" cy="446.10" r="1.95" fill="#606060" stroke="#454545" stroke-width="0.65"/>
<circle cx="221.30" cy="442.60" r="1.95" fill="#606060" stroke="#454545" stroke-width="0.65"/>
<circle cx="223.60" cy="421.80" r="1.95" fill="#606060" stroke="#454545" stroke-width="0.65"/>
<circle cx="222.90" cy="426.20" r="1.95" fill="#606060" stroke="#454545" stroke-width="0.65"/>
<circle cx="222.90" cy="428.20" r="1.95" fill="#606060" stroke="#454545" stroke-width="0.65"/>
<circle cx="230.70" cy="421.40" r="1.95" fill="#606060" stroke="#454545" stroke-width="0.65"/>
<circle cx="230.70" cy="427.80" r="1.95" fill="#606060" stroke="#454545" stroke-width="0.65"/>
<circle cx="230.70" cy="438.00" r="1.95" fill="#606060" stroke="#454545" stroke-width="0.65"/>
<circle cx="235.70" cy="419.40" r="1.95" fill="#606060" stroke="#454545" stroke-width="0.65"/>
<circle cx="237.40" cy="423.50" r="1.95" fill="#606060" stroke="#454545" stroke-width="0.65"/>
<circle cx="248.50" cy="436.00" r="1.95" fill="#606060" stroke="#454545" stroke-width="0.65"/>
<circle cx="253.20" cy="426.20" r="1.95" fill="#606060" stroke="#454545" stroke-width="0.65"/>
<circle cx="253.20" cy="432.60" r="1.95" fill="#606060" stroke="#454545" stroke-width="0.65"/>
<circle cx="253.20" cy="441.20" r="1.95" fill="#606060" stroke="#454545" stroke-width="0.65"/>
<circle cx="253.20" cy="446.30" r="1.95" fill="#606060" stroke="#454545" stroke-width="0.65"/>
<circle cx="257.60" cy="419.70" r="1.95" fill="#606060" stroke="#454545" stroke-width="0.65"/>
<circle cx="270.00" cy="452.00" r="1.95" fill="#606060" stroke="#454545" stroke-width="0.65"/>
<circle cx="282.20" cy="438.00" r="1.95" fill="#606060" stroke="#454545" stroke-width="0.65"/>
<circle cx="287.00" cy="430.80" r="1.95" fill="#606060" stroke="#454545" stroke-width="0.65"/>
<circle cx="287.80" cy="433.10" r="1.95" fill="#606060" stroke="#454545" stroke-width="0.65"/>
<circle cx="292.70" cy="431.20" r="1.95" fill="#606060" stroke="#454545" stroke-width="0.65"/>
<circle cx="306.80" cy="431.80" r="1.95" fill="#606060" stroke="#454545" stroke-width="0.65"/>
<circle cx="306.20" cy="455.40" r="1.95" fill="#606060" stroke="#454545" stroke-width="0.65"/>
<circle cx="310.10" cy="423.50" r="1.95" fill="#606060" stroke="#454545" stroke-width="0.65"/>
<circle cx="313.90" cy="425.40" r="1.95" fill="#606060" stroke="#454545" stroke-width="0.65"/>
<circle cx="311.90" cy="436.20" r="1.95" fill="#606060" stroke="#454545" stroke-width="0.65"/>
<circle cx="312.70" cy="439.20" r="1.95" fill="#606060" stroke="#454545" stroke-width="0.65"/>
<circle cx="323.80" cy="434.30" r="1.95" fill="#606060" stroke="#454545" stroke-width="0.65"/>
<circle cx="327.30" cy="443.50" r="1.95" fill="#606060" stroke="#454545" stroke-width="0.65"/>
<circle cx="334.50" cy="453.80" r="1.95" fill="#606060" stroke="#454545" stroke-width="0.65"/>
<circle cx="384.70" cy="460.50" r="1.95" fill="#606060" stroke="#454545" stroke-width="0.65"/>
<circle cx="396.70" cy="440.30" r="1.95" fill="#606060" stroke="#454545" stroke-width="0.65"/>
<circle cx="395.30" cy="445.80" r="1.95" fill="#606060" stroke="#454545" stroke-width="0.65"/>
<circle cx="396.90" cy="447.70" r="1.95" fill="#606060" stroke="#454545" stroke-width="0.65"/>
<circle cx="404.10" cy="434.10" r="1.95" fill="#606060" stroke="#454545" stroke-width="0.65"/>
<circle cx="404.10" cy="437.90" r="1.95" fill="#606060" stroke="#454545" stroke-width="0.65"/>
<circle cx="404.10" cy="453.50" r="1.95" fill="#606060" stroke="#454545" stroke-width="0.65"/>
<circle cx="409.90" cy="455.20" r="1.95" fill="#606060" stroke="#454545" stroke-width="0.65"/>
<circle cx="411.30" cy="461.60" r="1.95" fill="#606060" stroke="#454545" stroke-width="0.65"/>
<circle cx="422.40" cy="438.20" r="1.95" fill="#606060" stroke="#454545" stroke-width="0.65"/>
<circle cx="426.70" cy="413.10" r="1.95" fill="#606060" stroke="#454545" stroke-width="0.65"/>
<circle cx="426.70" cy="443.30" r="1.95" fill="#606060" stroke="#454545" stroke-width="0.65"/>
<circle cx="426.70" cy="449.80" r="1.95" fill="#606060" stroke="#454545" stroke-width="0.65"/>
<circle cx="426.70" cy="452.10" r="1.95" fill="#606060" stroke="#454545" stroke-width="0.65"/>
<circle cx="431.60" cy="459.80" r="1.95" fill="#606060" stroke="#454545" stroke-width="0.65"/>
<circle cx="444.00" cy="415.30" r="1.95" fill="#606060" stroke="#454545" stroke-width="0.65"/>
<circle cx="455.90" cy="435.30" r="1.95" fill="#606060" stroke="#454545" stroke-width="0.65"/>
<circle cx="461.60" cy="432.00" r="1.95" fill="#606060" stroke="#454545" stroke-width="0.65"/>
<circle cx="460.90" cy="445.00" r="1.95" fill="#606060" stroke="#454545" stroke-width="0.65"/>
<circle cx="466.70" cy="433.90" r="1.95" fill="#606060" stroke="#454545" stroke-width="0.65"/>
<circle cx="481.10" cy="430.60" r="1.95" fill="#606060" stroke="#454545" stroke-width="0.65"/>
<circle cx="486.20" cy="432.00" r="1.95" fill="#606060" stroke="#454545" stroke-width="0.65"/>
<circle cx="486.60" cy="437.80" r="1.95" fill="#606060" stroke="#454545" stroke-width="0.65"/>
<circle cx="480.40" cy="445.40" r="1.95" fill="#606060" stroke="#454545" stroke-width="0.65"/>
<circle cx="487.60" cy="444.70" r="1.95" fill="#606060" stroke="#454545" stroke-width="0.65"/>
<circle cx="484.00" cy="449.80" r="1.95" fill="#606060" stroke="#454545" stroke-width="0.65"/>
<circle cx="497.70" cy="436.30" r="1.95" fill="#606060" stroke="#454545" stroke-width="0.65"/>
<circle cx="501.30" cy="412.70" r="1.95" fill="#606060" stroke="#454545" stroke-width="0.65"/>
<circle cx="501.30" cy="426.30" r="1.95" fill="#606060" stroke="#454545" stroke-width="0.65"/>
<circle cx="508.40" cy="422.40" r="1.95" fill="#606060" stroke="#454545" stroke-width="0.65"/>
<line x1="30.20" y1="292.10" x2="156.50" y2="328.30" stroke="#000" stroke-width="2.4" stroke-linecap="butt"/>
<line x1="205.20" y1="317.70" x2="331.00" y2="344.40" stroke="#000" stroke-width="2.4" stroke-linecap="butt"/>
<line x1="379.40" y1="345.00" x2="505.50" y2="292.50" stroke="#000" stroke-width="2.4" stroke-linecap="butt"/>
<line x1="35.10" y1="448.50" x2="159.60" y2="455.80" stroke="#000" stroke-width="2.4" stroke-linecap="butt"/>
<line x1="210.50" y1="429.80" x2="335.00" y2="439.50" stroke="#000" stroke-width="2.4" stroke-linecap="butt"/>
<line x1="384.20" y1="450.40" x2="509.00" y2="429.30" stroke="#000" stroke-width="2.4" stroke-linecap="butt"/>
<text x="34.20" y="344.40" font-size="7.5" text-anchor="start" fill="#222">slope -1.13</text>
<text x="34.20" y="352.10" font-size="7.5" text-anchor="start" fill="#222"><tspan font-style="italic">P</tspan> = .0002</text>
<text x="335.10" y="273.40" font-size="7.5" text-anchor="end" fill="#222">slope -0.42</text>
<text x="335.10" y="281.10" font-size="7.5" text-anchor="end" fill="#222"><tspan font-style="italic">P</tspan> = .002</text>
<text x="380.80" y="273.40" font-size="7.5" text-anchor="start" fill="#222">slope 1.2</text>
<text x="380.80" y="281.10" font-size="7.5" text-anchor="start" fill="#222"><tspan font-style="italic">P</tspan> &lt; .0001</text>
<text x="34.10" y="481.50" font-size="7.5" text-anchor="start" fill="#222">slope -0.18</text>
<text x="34.10" y="489.60" font-size="7.5" text-anchor="start" fill="#222">ns</text>
<text x="206.90" y="481.50" font-size="7.5" text-anchor="start" fill="#222">slope -0.48</text>
<text x="206.90" y="489.60" font-size="7.5" text-anchor="start" fill="#222">ns</text>
<text x="381.00" y="481.50" font-size="7.5" text-anchor="start" fill="#222">slope 0.5</text>
<text x="381.00" y="489.60" font-size="7.5" text-anchor="start" fill="#222"><tspan font-style="italic">P</tspan> = .037</text>
<text x="8.70" y="310.70" font-size="8.7" text-anchor="middle" transform="rotate(-90 8.7 310.7)" fill="#222">% of precursor B-cells</text>
<text x="183.00" y="310.70" font-size="8.7" text-anchor="middle" transform="rotate(-90 183.0 310.7)" fill="#222">% pre-B-II</text>
<text x="358.20" y="310.70" font-size="8.7" text-anchor="middle" transform="rotate(-90 358.2 310.7)" fill="#222">% immature</text>
<text x="8.70" y="448.10" font-size="8.7" text-anchor="middle" transform="rotate(-90 8.7 448.1)" fill="#222">% of precursor B-cells</text>
<text x="183.00" y="448.10" font-size="8.7" text-anchor="middle" transform="rotate(-90 183.0 448.1)" fill="#222">% pre-B-II</text>
<text x="358.20" y="448.10" font-size="8.7" text-anchor="middle" transform="rotate(-90 358.2 448.1)" fill="#222">% immature</text>
</svg>
</body></html>
